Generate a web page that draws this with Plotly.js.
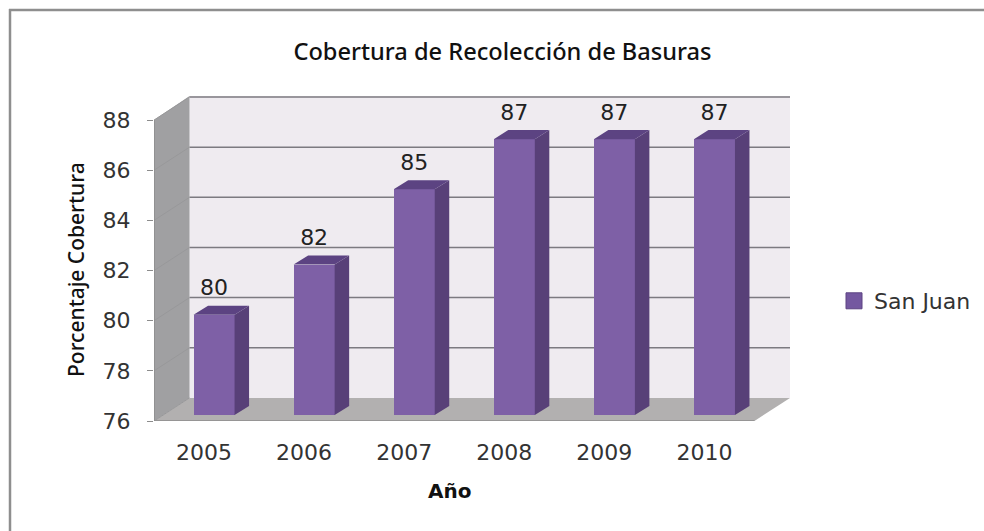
<!DOCTYPE html>
<html>
<head>
<meta charset="utf-8">
<script src="https://cdn.plot.ly/plotly-3.0.1.min.js"></script>
<style>
    html, body { margin: 0; padding: 0; background: #fff; overflow: hidden; }
    #chart { width: 1004px; height: 531px; }
</style>
</head>
<body>
<div id="chart"></div>
<script>
const years = [2005, 2006, 2007, 2008, 2009, 2010];
const coverage = [80, 82, 85, 87, 87, 87];
const yTicks = [76, 78, 80, 82, 84, 86, 88];
const seriesName = "San Juan";

// fake 3d offsets, in axis units
const X_MIN = 2004.5, X_FRONT = 2010.5, X_MAX = 2010.855;
const Y_MIN = 76, Y_FRONT = 88, Y_MAX = 88.96;
const WALL_DX = X_MAX - X_FRONT, WALL_DY = 0.92;
const BAR_SHIFT = 0.1, BAR_W = 0.41, BAR_LIFT = 0.24;
const SIDE_DX = 0.145, SIDE_DY = 0.36;

// svg is 20px wider than the window, otherwise the legend pushes the right margin and shrinks the plot
const M = { l: 154, r: 214, t: 96, b: 110 };
const W = 1004, H = 531;
const px = v => (v - M.l) / (W - M.l - M.r);
const py = v => (H - M.b - v) / (H - M.t - M.b);

function poly(points){
    return "M" + points.map(p => p[0] + "," + p[1]).join("L") + "Z";
}

function wall_shapes(){
    let shapes = [
        { type: "path", layer: "below", line: { width: 0 }, fillcolor: "#efebf0",
          path: poly([[X_MIN + WALL_DX, Y_MIN + WALL_DY], [X_MAX, Y_MIN + WALL_DY], [X_MAX, Y_MAX], [X_MIN + WALL_DX, Y_MAX]]) },
        { type: "path", layer: "below", line: { width: 0 }, fillcolor: "#a0a0a2",
          path: poly([[X_MIN, Y_MIN], [X_MIN + WALL_DX, Y_MIN + WALL_DY], [X_MIN + WALL_DX, Y_MAX], [X_MIN, Y_FRONT]]) },
        { type: "path", layer: "below", line: { width: 0 }, fillcolor: "#b2b0b0",
          path: poly([[X_MIN, Y_MIN], [X_FRONT, Y_MIN], [X_MAX, Y_MIN + WALL_DY], [X_MIN + WALL_DX, Y_MIN + WALL_DY]]) },
    ];
    for(const v of yTicks){
        if(v > Y_MIN){
            shapes.push({ type: "line", layer: "below", line: { color: "#7c7a80", width: 1.5 },
                x0: X_MIN + WALL_DX, x1: X_MAX, y0: v + WALL_DY, y1: v + WALL_DY });
        }
        shapes.push({ type: "line", layer: "below", line: { color: "#98989a", width: 1 },
            x0: X_MIN, x1: X_MIN + WALL_DX, y0: v, y1: v + WALL_DY });
    }
    // front axis lines
    shapes.push({ type: "line", layer: "below", line: { color: "#8c8c8c", width: 1.5 },
        x0: X_MIN, x1: X_MIN, y0: Y_MIN, y1: Y_FRONT });
    shapes.push({ type: "line", layer: "below", line: { color: "#8c8c8c", width: 1.5 },
        x0: X_MIN, x1: X_FRONT, y0: Y_MIN, y1: Y_MIN });
    // chart frame, only top and left show in the source
    shapes.push({ type: "line", xref: "paper", yref: "paper", layer: "below",
        line: { color: "#8e8e8e", width: 2.5 }, x0: px(9), x1: px(W), y0: py(10), y1: py(10) });
    shapes.push({ type: "line", xref: "paper", yref: "paper", layer: "below",
        line: { color: "#8e8e8e", width: 2.5 }, x0: px(10), x1: px(10), y0: py(9), y1: py(531) });
    return shapes;
}

function face_trace(make_face, color){
    let xs = [], ys = [];
    years.forEach((year, i) => {
        for(const p of make_face(year + BAR_SHIFT, coverage[i] + BAR_LIFT)){
            xs.push(p[0]);
            ys.push(p[1]);
        }
        xs.push(null);
        ys.push(null);
    });
    return {
        type: "scatter", mode: "lines", x: xs, y: ys, fill: "toself", fillcolor: color,
        line: { width: 0, color: color }, showlegend: false, hoverinfo: "skip",
    };
}

const sideFaces = face_trace((x, top) => {
    const r = x + BAR_W / 2, base = Y_MIN + BAR_LIFT;
    return [[r, base], [r + SIDE_DX, base + SIDE_DY], [r + SIDE_DX, top + SIDE_DY], [r, top]];
}, "#584078");

const topFaces = face_trace((x, top) => {
    const l = x - BAR_W / 2, r = x + BAR_W / 2;
    return [[l, top], [r, top], [r + SIDE_DX, top + SIDE_DY], [l + SIDE_DX, top + SIDE_DY]];
}, "#5c4382");

const frontFaces = {
    type: "bar",
    name: seriesName,
    x: years.map(y => y + BAR_SHIFT),
    y: coverage.map(v => v - Y_MIN),
    base: Y_MIN + BAR_LIFT,
    width: BAR_W,
    marker: { color: "#7e60a6", line: { width: 0 } },
    showlegend: false,
    hoverinfo: "skip",
};

// legend entry only, the bar swatch of plotly is too small
const legendKey = {
    type: "scatter",
    mode: "markers",
    name: seriesName,
    x: [null],
    y: [null],
    marker: { symbol: "square", size: 16, color: "#7458a0", line: { color: "#5c4382", width: 1 } },
    hoverinfo: "skip",
};

const valueLabels = {
    type: "scatter",
    mode: "text",
    x: years.map(y => y + BAR_SHIFT),
    y: coverage.map(v => v + BAR_LIFT + SIDE_DY + 0.2),
    text: coverage.map(String),
    textposition: "top center",
    textfont: { family: "DejaVu Sans", size: 22, color: "#222" },
    showlegend: false,
    hoverinfo: "skip",
};

const layout = {
    width: W,
    height: H,
    margin: { l: M.l, r: M.r, t: M.t, b: M.b, pad: 0 },
    paper_bgcolor: "#fff",
    plot_bgcolor: "rgba(0,0,0,0)",
    bargap: 0,
    showlegend: true,
    legend: {
        x: px(834), y: py(301), xanchor: "left", yanchor: "middle",
        font: { family: "DejaVu Sans", size: 22, color: "#333" },
        bgcolor: "rgba(0,0,0,0)", itemwidth: 30,
    },
    title: {
        text: "Cobertura de Recolección de Basuras",
        x: 502.5 / W, xanchor: "center",
        y: 1 - 52 / H, yanchor: "middle",
        font: { family: "Noto Sans", size: 23.6, color: "#111", weight: 500 },
    },
    xaxis: {
        type: "linear",
        range: [X_MIN, X_MAX],
        tickvals: years,
        ticktext: years.map(String),
        ticks: "",
        ticklabelstandoff: 16,
        showgrid: false,
        zeroline: false,
        showline: false,
        tickfont: { family: "DejaVu Sans", size: 22, color: "#333" },
    },
    yaxis: {
        type: "linear",
        range: [Y_MIN, Y_MAX],
        tickvals: yTicks,
        ticks: "outside",
        ticklen: 6,
        tickcolor: "#8c8c8c",
        ticklabelstandoff: 12,
        showgrid: false,
        zeroline: false,
        showline: false,
        tickfont: { family: "DejaVu Sans", size: 22, color: "#333" },
    },
    // axis titles as annotations: they center on the front edge, not on the whole plot area
    annotations: [
        { text: "Año", xref: "paper", yref: "paper", x: px(449), y: py(491), xanchor: "center", yanchor: "middle", showarrow: false,
          font: { family: "DejaVu Sans", size: 20, color: "#111", weight: "bold" } },
        { text: "Porcentaje Cobertura", xref: "paper", yref: "paper", x: px(76), y: py(270), xanchor: "center", yanchor: "middle", showarrow: false, textangle: -90,
          font: { family: "Noto Sans", size: 21, color: "#111", weight: 500 } },
    ],
    shapes: wall_shapes(),
};

Plotly.newPlot("chart", [frontFaces, sideFaces, topFaces, valueLabels, legendKey], layout, { displayModeBar: false, staticPlot: true });
</script>
</body>
</html>
